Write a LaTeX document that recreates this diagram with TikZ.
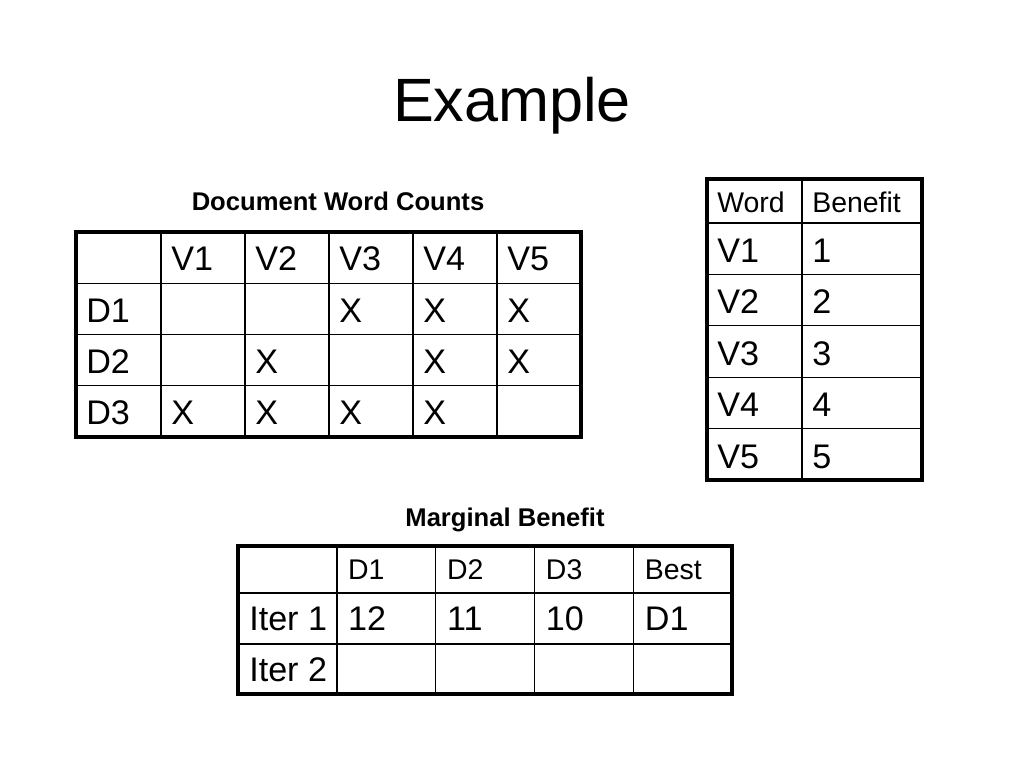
\documentclass[tikz,border=0pt]{standalone}
\usepackage{fontspec}
\setmainfont{Liberation Sans}
\usetikzlibrary{calc}

\begin{document}
\begin{tikzpicture}[x=0.703125pt, y=-0.703125pt,
	outer/.style={line width=2.2pt},
	inner/.style={line width=0.9pt},
	cell/.style={anchor=base west, inner sep=0pt, font=\fontsize{24}{28}\selectfont},
	small/.style={anchor=base west, inner sep=0pt, font=\fontsize{20}{24}\selectfont},
	caption/.style={anchor=base, inner sep=0pt, font=\bfseries\fontsize{18}{21}\selectfont}]
	\useasboundingbox (0,0) rectangle (1024,768);
	\node[anchor=base, inner sep=0pt, font=\fontsize{43}{50}\selectfont] (title) at (512,122) {Example};

	% document word counts
	\node[caption] (wc-title) at (338,211) {Document Word Counts};
	\draw[inner] foreach \i in {1,...,5} {(77+84*\i,232) -- (77+84*\i,437)}
		foreach \r in {1,2,3} {(76,232+51.25*\r) -- (581,232+51.25*\r)};
	\draw[outer] (76,232) rectangle (581,437);
	\foreach \t [count=\i] in {V1,V2,V3,V4,V5}
		\node[cell] (wc-0-\i) at (87+84*\i,271) {\t};
	\foreach \t [count=\r] in {D1,D2,D3}
		\node[cell] (wc-\r-0) at (86,271+51.25*\r) {\t};
	\foreach \r/\i in {1/3,1/4,1/5,2/2,2/4,2/5,3/1,3/2,3/3,3/4}
		\node[cell] (wc-\r-\i) at (87+84*\i,271+51.25*\r) {X};

	% word benefit
	\draw[inner] (802,179) -- (802,480)
		foreach \r in {0,...,4} {(707,223+51.4*\r) -- (922,223+51.4*\r)};
	\draw[outer] (707,179) rectangle (922,480);
	\node[small] (wb-0-1) at (717,213) {Word};
	\node[small] (wb-0-2) at (812,213) {Benefit};
	\foreach \r in {1,...,5} {
		\node[cell] (wb-\r-1) at (717,211+51.4*\r) {V\r};
		\node[cell] (wb-\r-2) at (812,211+51.4*\r) {\r};
	}

	% marginal benefit
	\node[caption] (mb-title) at (505,526) {Marginal Benefit};
	\draw[inner] foreach \i in {1,...,4} {(238+98.9*\i,546) -- (238+98.9*\i,694)}
		(238,593) -- (732,593) (238,644) -- (732,644);
	\draw[outer] (238,546) rectangle (732,694);
	\foreach \t [count=\i] in {D1,D2,D3,Best}
		\node[small] (mb-0-\i) at (249+98.9*\i,579) {\t};
	\node[cell] (mb-1-0) at (249,630) {Iter 1};
	\foreach \t [count=\i] in {12,11,10,D1}
		\node[cell] (mb-1-\i) at (249+98.9*\i,630) {\t};
	\node[cell] (mb-2-0) at (249,681) {Iter 2};
\end{tikzpicture}
\end{document}
